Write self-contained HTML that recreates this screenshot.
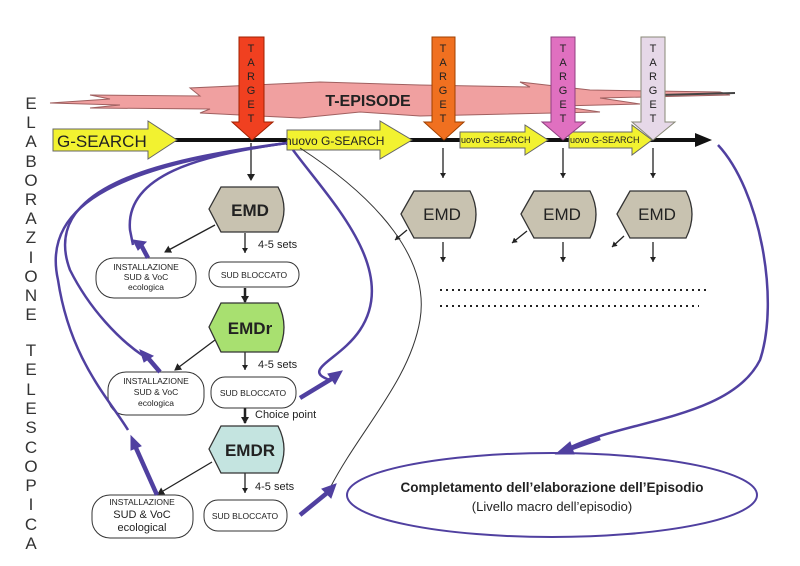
<!DOCTYPE html>
<html><head><meta charset="utf-8"><style>
html,body{margin:0;padding:0;background:#fff;}
svg{display:block;font-family:"Liberation Sans",sans-serif;}
</style></head><body>
<svg width="800" height="566" viewBox="0 0 800 566" xmlns="http://www.w3.org/2000/svg">
<defs>
<marker id="ah" markerWidth="8" markerHeight="8" refX="6" refY="4" orient="auto" markerUnits="userSpaceOnUse"><path d="M0,0 L7,4 L0,8 Z" fill="#222"/></marker>
<marker id="ahs" markerWidth="6" markerHeight="6" refX="5" refY="3" orient="auto" markerUnits="userSpaceOnUse"><path d="M0,0 L5,3 L0,6 Z" fill="#222"/></marker>
</defs>

<!-- left vertical text -->
<g font-size="17" fill="#333" text-anchor="middle">
<text x="31" y="109">E</text><text x="31" y="128">L</text><text x="31" y="147">A</text><text x="31" y="167">B</text><text x="31" y="186">O</text><text x="31" y="205">R</text><text x="31" y="224">A</text><text x="31" y="243">Z</text><text x="31" y="263">I</text><text x="31" y="282">O</text><text x="31" y="301">N</text><text x="31" y="320">E</text>
</g>

<!-- T-EPISODE band -->
<path d="M50,103 L110,99 L90,95 L200,96 L190,88 L320,82 L420,85 L530,87 L520,82 L590,90 L720,92 L730,95 L600,98 L640,104 L560,106 L600,112 L420,116 L360,112 L300,118 L200,113 L210,109 L90,108 L120,105 Z" fill="#f0a0a0" stroke="#a06060" stroke-width="1"/>
<line x1="660" y1="95" x2="735" y2="93" stroke="#444" stroke-width="2"/>
<text x="368" y="106" font-size="16" font-weight="bold" text-anchor="middle" fill="#222">T-EPISODE</text>

<!-- main line -->
<line x1="170" y1="140" x2="700" y2="140" stroke="#111" stroke-width="4"/>
<path d="M695,133 L712,140 L695,147 Z" fill="#111"/>

<!-- G-SEARCH -->
<path d="M53,129 L148,129 L148,121 L177,140 L148,159 L148,151 L53,151 Z" fill="#f2f230" stroke="#666"/>
<text x="57" y="147" font-size="17" fill="#222">G-SEARCH</text>
<path d="M287,130 L380,130 L380,121 L412,140 L380,159 L380,150 L287,150 Z" fill="#f2f230" stroke="#666"/>
<text x="285" y="145" font-size="12" fill="#222">nuovo G-SEARCH</text>
<path d="M460,132 L525,132 L525,125 L548,140 L525,155 L525,148 L460,148 Z" fill="#f2f230" stroke="#666"/>
<text x="461" y="143" font-size="9" fill="#222">uovo G-SEARCH</text>
<path d="M569,132 L632,132 L632,125 L652,140 L632,155 L632,148 L569,148 Z" fill="#f2f230" stroke="#666"/>
<text x="570" y="143" font-size="9" fill="#222">uovo G-SEARCH</text>

<!-- targets -->
<g font-size="11" fill="#222" text-anchor="middle">
<path d="M239,37 L264,37 L264,122 L273,122 L252,140 L232,122 L239,122 Z" fill="#f04020" stroke="#a02000"/>
<text x="251" y="52">T</text><text x="251" y="66">A</text><text x="251" y="80">R</text><text x="251" y="94">G</text><text x="251" y="108">E</text><text x="251" y="122">T</text>
<path d="M432,37 L455,37 L455,122 L464,122 L444,140 L424,122 L432,122 Z" fill="#f07020" stroke="#a04000"/>
<text x="443" y="52">T</text><text x="443" y="66">A</text><text x="443" y="80">R</text><text x="443" y="94">G</text><text x="443" y="108">E</text><text x="443" y="122">T</text>
<path d="M551,37 L575,37 L575,122 L585,122 L563,140 L542,122 L551,122 Z" fill="#e070c0" stroke="#904080"/>
<text x="563" y="52">T</text><text x="563" y="66">A</text><text x="563" y="80">R</text><text x="563" y="94">G</text><text x="563" y="108">E</text><text x="563" y="122">T</text>
<path d="M641,37 L665,37 L665,122 L675,122 L653,140 L632,122 L641,122 Z" fill="#e6d8e8" stroke="#887"/>
<text x="653" y="52">T</text><text x="653" y="66">A</text><text x="653" y="80">R</text><text x="653" y="94">G</text><text x="653" y="108">E</text><text x="653" y="122">T</text>
</g>

<!-- vertical connectors -->
<g stroke="#222" stroke-width="1.3" fill="none">
<line x1="251" y1="143" x2="251" y2="180" marker-end="url(#ah)"/>
<line x1="443" y1="148" x2="443" y2="178" marker-end="url(#ahs)"/>
<line x1="563" y1="148" x2="563" y2="178" marker-end="url(#ahs)"/>
<line x1="653" y1="148" x2="653" y2="178" marker-end="url(#ahs)"/>
<line x1="443" y1="242" x2="443" y2="262" marker-end="url(#ahs)"/>
<line x1="563" y1="242" x2="563" y2="262" marker-end="url(#ahs)"/>
<line x1="653" y1="242" x2="653" y2="262" marker-end="url(#ahs)"/>
<line x1="407" y1="230" x2="395" y2="240" marker-end="url(#ahs)"/>
<line x1="527" y1="231" x2="512" y2="243" marker-end="url(#ahs)"/>
<line x1="624" y1="236" x2="612" y2="247" marker-end="url(#ahs)"/>
<line x1="245" y1="233" x2="245" y2="253" marker-end="url(#ahs)"/>
<line x1="215" y1="225" x2="165" y2="252" marker-end="url(#ah)"/>
<line x1="245" y1="288" x2="245" y2="302" stroke-width="2.5" marker-end="url(#ah)"/>
<line x1="245" y1="352" x2="245" y2="370" marker-end="url(#ahs)"/>
<line x1="215" y1="340" x2="175" y2="370" marker-end="url(#ah)"/>
<line x1="245" y1="408" x2="245" y2="423" stroke-width="2.5" marker-end="url(#ah)"/>
<line x1="245" y1="473" x2="245" y2="493" marker-end="url(#ahs)"/>
<line x1="212" y1="462" x2="158" y2="494" marker-end="url(#ah)"/>
</g>

<!-- dotted lines -->
<line x1="440" y1="290" x2="710" y2="290" stroke="#222" stroke-width="2" stroke-dasharray="2,4"/>
<line x1="440" y1="306" x2="699" y2="306" stroke="#222" stroke-width="2" stroke-dasharray="2,4"/>

<!-- EMD hexagons -->
<g stroke="#333" stroke-width="1.3">
<path d="M209,209 L221,187 L278,187 Q290,209 278,232 L221,232 Z" fill="#c8c2b0"/>
<path d="M209,327 L221,303 L278,303 Q290,327 278,352 L221,352 Z" fill="#a8e070"/>
<path d="M209,449 L221,426 L278,426 Q290,449 278,473 L221,473 Z" fill="#c4e4e0"/>
<path d="M401,214 L414,191 L470,191 Q482,214 470,238 L414,238 Z" fill="#c8c2b0"/>
<path d="M521,214 L534,191 L590,191 Q602,214 590,238 L534,238 Z" fill="#c8c2b0"/>
<path d="M617,214 L630,191 L686,191 Q698,214 686,238 L630,238 Z" fill="#c8c2b0"/>
</g>
<g font-size="17" text-anchor="middle" fill="#222">
<text x="250" y="216" font-weight="bold">EMD</text>
<text x="250" y="334" font-weight="bold">EMDr</text>
<text x="250" y="456" font-weight="bold">EMDR</text>
<text x="442" y="220">EMD</text>
<text x="562" y="220">EMD</text>
<text x="657" y="220">EMD</text>
</g>

<!-- boxes -->
<g fill="#fff" stroke="#333" stroke-width="1">
<rect x="96" y="258" width="100" height="40" rx="18"/>
<rect x="209" y="262" width="90" height="25" rx="12"/>
<rect x="108" y="372" width="96" height="43" rx="18"/>
<rect x="211" y="377" width="85" height="31" rx="14"/>
<rect x="92" y="495" width="101" height="43" rx="18"/>
<rect x="204" y="500" width="83" height="31" rx="14"/>
</g>
<g font-size="8.5" text-anchor="middle" fill="#222">
<text x="146" y="270">INSTALLAZIONE</text><text x="146" y="280">SUD  &amp; VoC</text><text x="146" y="290">ecologica</text>
<text x="254" y="278">SUD BLOCCATO</text>
<text x="156" y="384">INSTALLAZIONE</text><text x="156" y="395">SUD &amp; VoC</text><text x="156" y="406">ecologica</text>
<text x="253" y="396">SUD BLOCCATO</text>
<text x="142" y="505">INSTALLAZIONE</text>
<text x="245" y="519">SUD BLOCCATO</text>
</g>
<g font-size="11" text-anchor="middle" fill="#222">
<text x="142" y="518">SUD &amp; VoC</text><text x="142" y="531">ecological</text>
</g>
<g font-size="11" fill="#222">
<text x="258" y="248">4-5 sets</text>
<text x="258" y="368">4-5 sets</text>
<text x="255" y="418">Choice point</text>
<text x="255" y="490">4-5 sets</text>
</g>

<!-- blue curves -->
<g stroke="#5040a0" stroke-width="2.5" fill="none">
<path d="M287,143 C200,155 125,175 130,230 L133,245"/>
<path d="M287,143 C150,160 40,190 70,270 C90,310 120,340 142,355"/>
<path d="M287,143 C130,165 40,200 58,280 C70,360 110,400 128,430"/>
<path d="M293,150 C330,200 400,270 360,330 C340,360 300,370 330,380"/>
<path d="M718,145 C760,190 780,300 760,360 C730,420 620,420 565,450"/>
</g>
<ellipse cx="552" cy="495" rx="205" ry="42" fill="none" stroke="#5040a0" stroke-width="2"/>
<path d="M300,148 C380,200 430,260 420,320 C410,380 360,430 330,488" stroke="#333" stroke-width="1" fill="none"/>
<g stroke="#5040a0" stroke-width="4.5" fill="#5040a0">
<line x1="148" y1="258" x2="140" y2="243"/><path d="M133,240 L146,242 L138,250 Z" stroke-width="1"/>
<line x1="160" y1="372" x2="148" y2="358"/><path d="M140,350 L153,356 L144,362 Z" stroke-width="1"/>
<line x1="157" y1="495" x2="136" y2="448"/><path d="M131,436 L141,446 L131,450 Z" stroke-width="1"/>
<line x1="300" y1="398" x2="333" y2="378"/><path d="M342,371 L335,384 L328,374 Z" stroke-width="1"/>
<line x1="300" y1="515" x2="327" y2="493"/><path d="M336,484 L331,498 L322,489 Z" stroke-width="1"/>
<line x1="600" y1="438" x2="572" y2="448"/><path d="M556,454 L570,442 L574,454 Z" stroke-width="1"/>
</g>

<!-- ellipse text -->
<text x="552" y="492" font-size="13.5" font-weight="bold" text-anchor="middle" fill="#222">Completamento dell’elaborazione dell’Episodio</text>
<text x="552" y="511" font-size="13" text-anchor="middle" fill="#222">(Livello macro dell’episodio)</text>

<!-- TELESCOPICA -->
<g font-size="17" fill="#333" text-anchor="middle">
<text x="31" y="356">T</text><text x="31" y="375">E</text><text x="31" y="395">L</text><text x="31" y="414">E</text><text x="31" y="433">S</text><text x="31" y="453">C</text><text x="31" y="472">O</text><text x="31" y="491">P</text><text x="31" y="510">I</text><text x="31" y="530">C</text><text x="31" y="549">A</text>
</g>
</svg>
</body></html>
